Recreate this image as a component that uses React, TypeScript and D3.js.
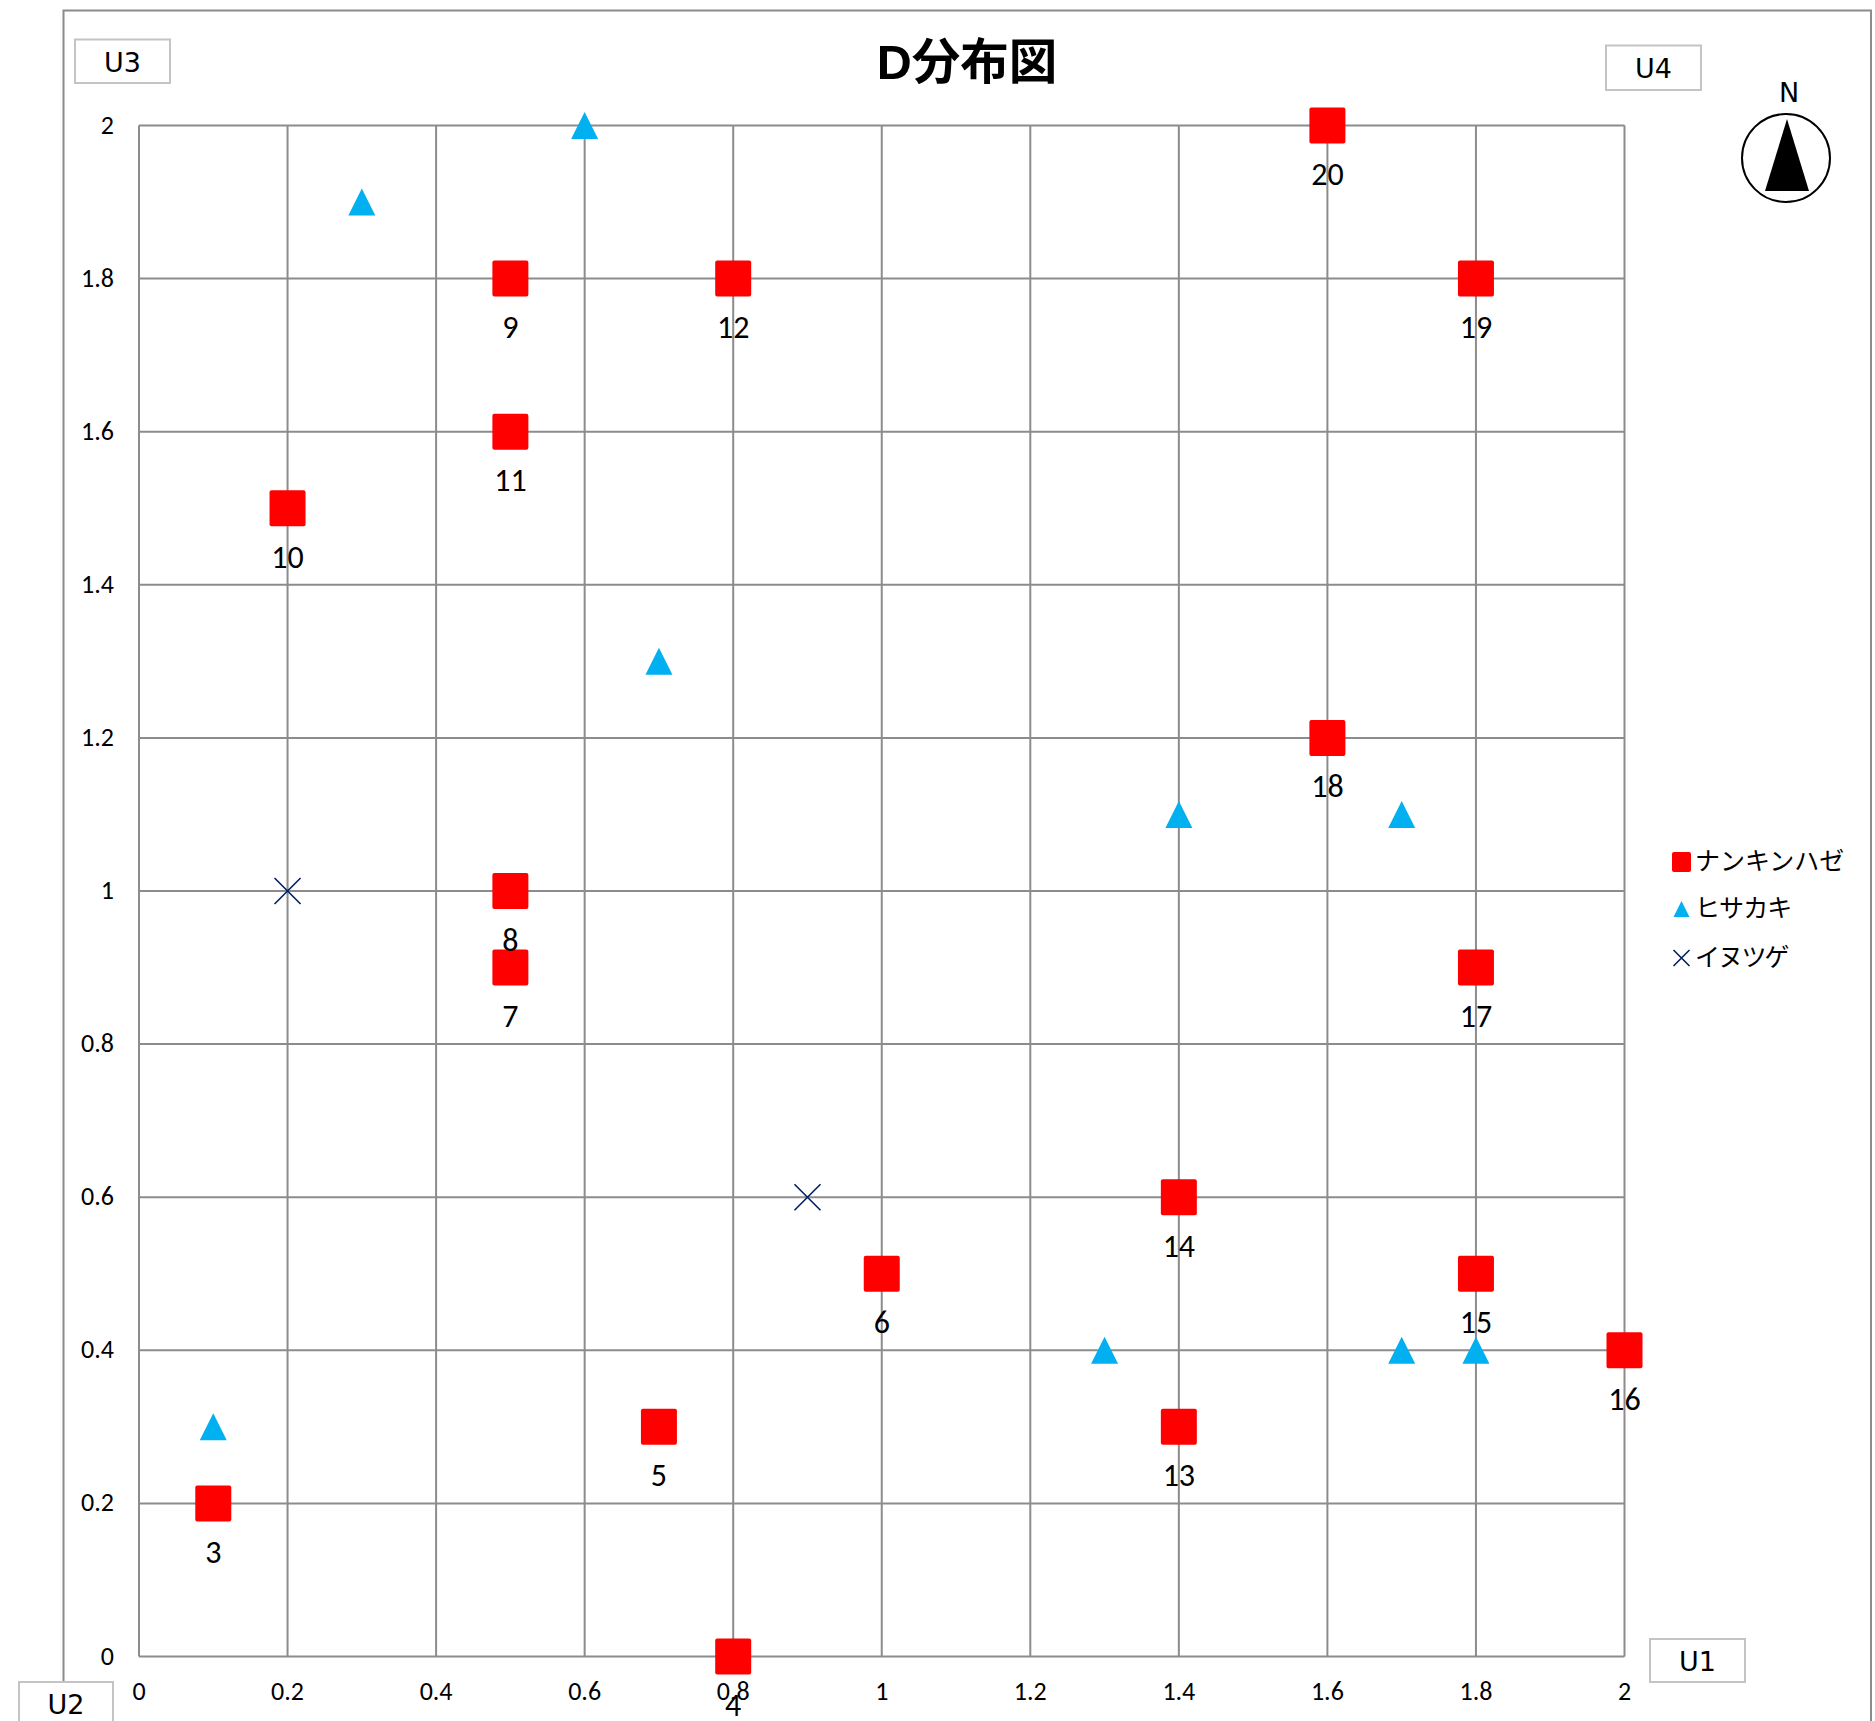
import React from "react";
import * as d3 from "d3";

const squares: [number, number, string][] = [
  [0.1, 0.2, "3"], [0.8, 0, "4"], [0.7, 0.3, "5"], [1, 0.5, "6"], [0.5, 0.9, "7"], [0.5, 1, "8"],
  [0.5, 1.8, "9"], [0.2, 1.5, "10"], [0.5, 1.6, "11"], [0.8, 1.8, "12"], [1.4, 0.3, "13"], [1.4, 0.6, "14"],
  [1.8, 0.5, "15"], [2, 0.4, "16"], [1.8, 0.9, "17"], [1.6, 1.2, "18"], [1.8, 1.8, "19"], [1.6, 2, "20"],
];
const triangles: [number, number][] = [
  [0.1, 0.3], [0.3, 1.9], [0.6, 2], [0.7, 1.3], [1.4, 1.1], [1.7, 1.1], [1.3, 0.4], [1.7, 0.4], [1.8, 0.4],
];
const crosses: [number, number][] = [[0.2, 1], [0.9, 0.6]];
const ticks = [0, 0.2, 0.4, 0.6, 0.8, 1, 1.2, 1.4, 1.6, 1.8, 2];
const legendNames = ["ナンキンハゼ", "ヒサカキ", "イヌツゲ"];
const cornerLabels: [string, number, number, number, number][] = [
  ["U3", 75, 39.5, 95, 43.5], ["U4", 1606, 45.5, 95, 44.5], ["U1", 1650, 1639, 95, 43], ["U2", 19, 1682, 94, 60],
];

const RED = "#ff0000", BLUE = "#00b0f0", NAVY = "#002060", GRID = "#8c8c8c";
const CJK = "'Noto Sans CJK JP', sans-serif";
const LAT = "Carlito, 'Open Sans', 'Noto Sans', sans-serif";
const BOX = "'DejaVu Sans', sans-serif";

const x = d3.scaleLinear().domain([0, 2]).range([139, 1624.5]);
const y = d3.scaleLinear().domain([0, 2]).range([1656.5, 125.5]);

function Square({ cx, cy, w, h }: { cx: number; cy: number; w: number; h: number }) {
  return <rect x={cx - w / 2} y={cy - h / 2} width={w} height={h} rx={2} fill={RED} />;
}
function Tri({ cx, cy, w, h }: { cx: number; cy: number; w: number; h: number }) {
  return <path d={`M${cx},${cy - h / 2}L${cx + w / 2},${cy + h / 2}L${cx - w / 2},${cy + h / 2}Z`} fill={BLUE} />;
}
function Cross({ cx, cy, r }: { cx: number; cy: number; r: number }) {
  return <path d={`M${cx - r},${cy - r}L${cx + r},${cy + r}M${cx - r},${cy + r}L${cx + r},${cy - r}`} stroke={NAVY} strokeWidth={1.6} fill="none" />;
}

export default function App() {
  return (
    <svg width={1875} height={1721} viewBox="0 0 1875 1721" style={{ position: "absolute", left: 0, top: 0 }}>
      <rect width={1875} height={1721} fill="#fff" />
      <path d="M63.5,1682V10.5H1871V1721" fill="none" stroke={GRID} strokeWidth={2} />
      {ticks.map((t) => (
        <g key={t}>
          <line x1={x(t)} x2={x(t)} y1={y(0)} y2={y(2)} stroke={GRID} strokeWidth={2} />
          <line x1={x(0)} x2={x(2)} y1={y(t)} y2={y(t)} stroke={GRID} strokeWidth={2} />
          <text x={x(t)} y={1700} textAnchor="middle" fontFamily={LAT} fontSize={26} fill="#000">{t}</text>
          <text x={114} y={y(t) + 8} textAnchor="end" fontFamily={LAT} fontSize={26} fill="#000">{t}</text>
        </g>
      ))}
      {cornerLabels.map(([s, bx, by, w, h]) => (
        <g key={s}>
          <rect x={bx} y={by} width={w} height={h} fill="#fff" stroke="#c4c4c4" strokeWidth={2} />
          <text x={bx + w / 2} y={by + 32} textAnchor="middle" fontFamily={BOX} fontSize={27} fill="#000">{s}</text>
        </g>
      ))}
      <text x={967} y={79} textAnchor="middle" fontFamily={`'Liberation Sans', ${CJK}`} fontWeight={700} fontSize={48.5} fill="#000">D分布図</text>
      <text x={1789} y={102} textAnchor="middle" fontFamily={BOX} fontSize={27} fill="#000">N</text>
      <circle cx={1786} cy={158} r={44} fill="#fff" stroke="#000" strokeWidth={2} />
      <path d="M1787,119L1809,191H1765Z" fill="#000" />
      {triangles.map(([a, b], i) => <Tri key={i} cx={x(a)} cy={y(b)} w={27} h={27} />)}
      {crosses.map(([a, b], i) => <Cross key={i} cx={x(a)} cy={y(b)} r={13} />)}
      {squares.map(([a, b, l]) => <Square key={l} cx={x(a)} cy={y(b)} w={36} h={36} />)}
      {squares.map(([a, b, l]) => (
        <text key={l} x={x(a)} y={y(b) + 59.5} textAnchor="middle" fontFamily={LAT} fontSize={32} fill="#000">{l}</text>
      ))}
      <Square cx={1681.5} cy={862} w={19} h={20} />
      <Tri cx={1681.5} cy={909} w={16} h={16} />
      <Cross cx={1681.5} cy={958} r={8} />
      {legendNames.map((n, i) => (
        <text key={n} x={1695} y={[870, 917, 966][i]} fontFamily={CJK} fontSize={25} letterSpacing={[0, -0.9, -1.8][i]} fill="#000">{n}</text>
      ))}
    </svg>
  );
}
